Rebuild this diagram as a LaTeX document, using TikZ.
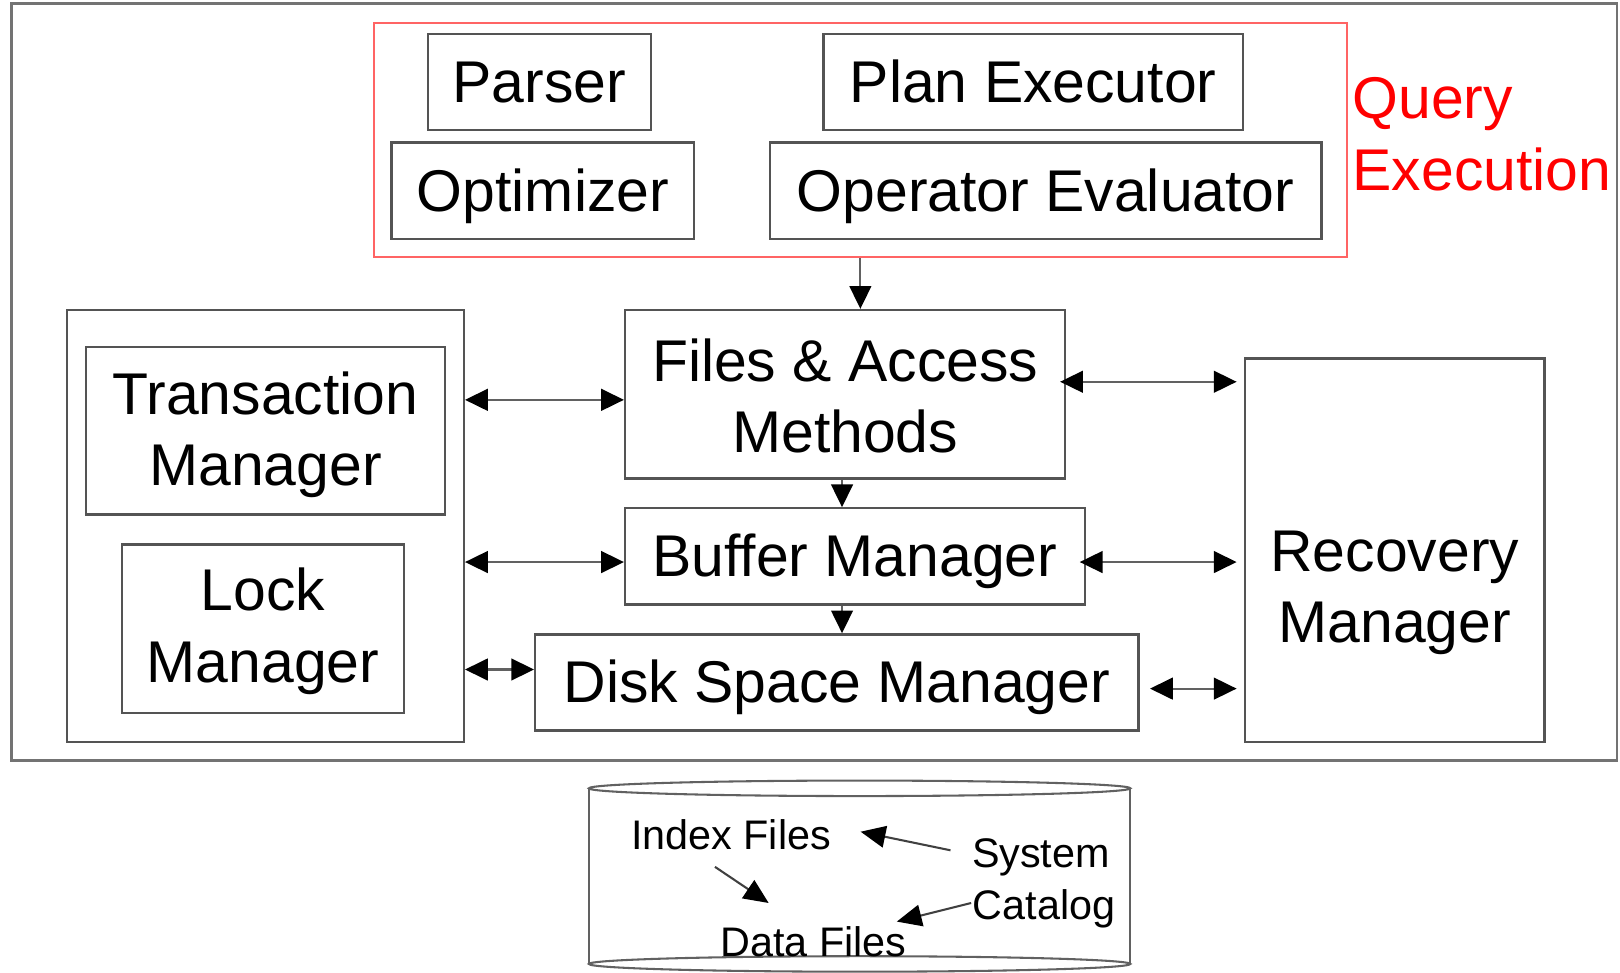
\documentclass[tikz,border=0pt]{standalone}
\usepackage{fontspec}
\setmainfont{Liberation Sans}
\usetikzlibrary{arrows.meta,calc}
\definecolor{boxc}{gray}{0.33}
\definecolor{arrc}{gray}{0.38}
\definecolor{outc}{gray}{0.45}
\definecolor{qred}{RGB}{255,100,100}
\definecolor{qtext}{RGB}{255,0,0}
\begin{document}
\begin{tikzpicture}[x=1pt,y=-1pt,
  bx/.style={draw=boxc,line width=2.2pt,inner sep=0pt,anchor=center},
  lbl/.style={font=\fontsize{57}{69}\selectfont,align=center,inner sep=0pt},
  one/.style={bx,lbl,text height=51.6pt,text depth=12.1pt},
  ct/.style={font=\fontsize{40}{48}\selectfont,inner sep=0pt,anchor=base},
  tipa/.tip={Triangle[length=22pt,width=21pt,color=black]},
  tipb/.tip={Triangle[length=24pt,width=21pt,color=black]},
  arr/.style={draw=arrc,line width=2pt,-tipa},
  dbl/.style={draw=arrc,line width=2pt,tipa-tipa},
  carr/.style={draw=black!75,line width=2pt,-tipb},
  cyl/.style={draw=arrc,line width=2pt}]
\useasboundingbox (0,0) rectangle (1568,940.8);

% outer frame
\node[draw=outc,line width=2.2pt,inner sep=0pt,minimum width=1554pt,minimum height=732.5pt] (outer) at (788,369.75) {};

% query execution group
\node[draw=qred,line width=2.2pt,inner sep=0pt,minimum width=941.5pt,minimum height=226.5pt] (qe) at (832.75,135.25) {};
\node[lbl,font=\fontsize{57}{70}\selectfont,text=qtext,align=left,anchor=west] (qelabel) at (1309,129.8) {Query\\Execution};

\node[one,minimum width=216pt,minimum height=93pt] (parser) at (522,79.5) {Parser};
\node[one,minimum width=406pt,minimum height=93pt] (plan) at (1000,79.5) {Plan Executor};
\node[one,minimum width=293pt,minimum height=93pt] (opt) at (525.5,184.5) {Optimizer};
\node[one,minimum width=534pt,minimum height=93pt] (opev) at (1012,184.5) {Operator Evaluator};

% left group
\node[bx,minimum width=384pt,minimum height=418pt] (lg) at (257,509) {};
\node[bx,minimum width=348pt,minimum height=162pt] (tm) at (257,417) {};
\node[lbl] (tmtext) at (257,421) {Transaction\\Manager};
\node[bx,minimum width=273pt,minimum height=163pt] (lm) at (254.5,608.5) {};
\node[lbl] (lmtext) at (254.5,611) {Lock\\Manager};

% central stack
\node[bx,minimum width=426pt,minimum height=163pt] (files) at (818,381.5) {};
\node[lbl] (filestext) at (818,383) {Files \& Access\\Methods};
\node[one,minimum width=445pt,minimum height=93pt] (buf) at (827.5,538.5) {Buffer Manager};
\node[one,minimum width=584pt,minimum height=93pt] (disk) at (810,660.5) {Disk Space Manager};

% recovery
\node[bx,minimum width=290pt,minimum height=371pt] (rec) at (1350,532.5) {};
\node[lbl] (rectext) at (1350,573.6) {Recovery\\Manager};

% connectors
\draw[arr] (qe.south) -- (qe.south |- files.north);
\draw[arr] ([xshift=-3pt]files.south) -- ([xshift=-3pt]files.south |- buf.north);
\draw[arr] ([xshift=-12.5pt]buf.south) -- ([xshift=-12.5pt]buf.south |- disk.north);

\draw[dbl] ([yshift=-5.5pt]files.west -| lg.east) -- ([yshift=-5.5pt]files.west);
\draw[dbl] ([yshift=-5.5pt]buf.west -| lg.east) -- ([yshift=-5.5pt]buf.west);
\draw[dbl] ([yshift=12.5pt]disk.west -| lg.east) -- ([yshift=12.5pt]disk.west);

\draw[dbl,shorten <=-6pt,shorten >=7pt] ([yshift=12pt]files.east) -- ([yshift=12pt]files.east -| rec.west);
\draw[dbl,shorten <=-6pt,shorten >=7pt] ([yshift=-5.5pt]buf.east) -- ([yshift=-5.5pt]buf.east -| rec.west);
\draw[dbl,shorten <=10pt,shorten >=7pt] ([yshift=-6pt]disk.east) -- ([yshift=-6pt]disk.east -| rec.west);

% disk cylinder
\draw[cyl] (570,763) -- (570,933) (1094,763) -- (1094,933);
\draw[cyl] (832,763) ellipse[x radius=262pt,y radius=7.5pt];
\draw[cyl] (832,933) ellipse[x radius=262pt,y radius=7.5pt];

\node[ct] (idx) at (707.5,822) {Index Files};
\node[ct] (sys) at (1007.5,840) {System};
\node[ct] (cat) at (1010.5,890) {Catalog};
\node[ct] (dat) at (787.5,926) {Data Files};

\coordinate (s1) at (920,823);
\coordinate (s2) at (833,805);
\coordinate (i1) at (692,839);
\coordinate (i2) at (744,874);
\coordinate (c1) at (940,874);
\coordinate (c2) at (868,892);
\draw[carr] (s1) -- (s2);
\draw[carr] (i1) -- (i2);
\draw[carr] (c1) -- (c2);
\end{tikzpicture}
\end{document}
